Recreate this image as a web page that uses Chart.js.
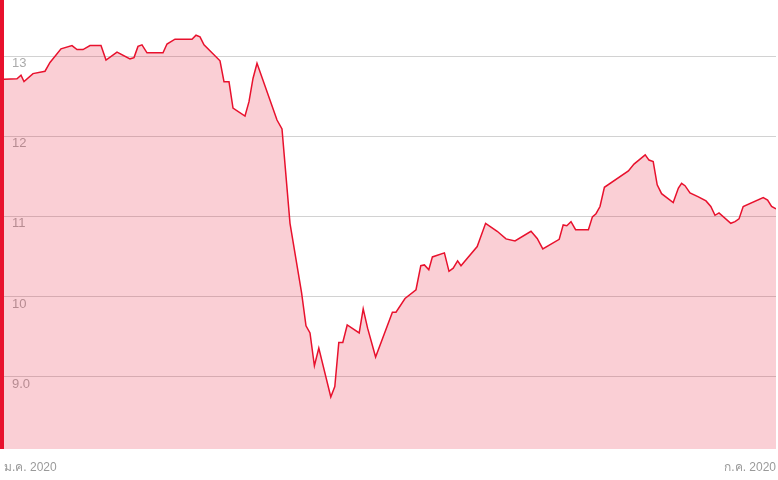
<!DOCTYPE html>
<html>
<head>
<meta charset="utf-8">
<script src="https://cdn.jsdelivr.net/npm/chart.js@4/dist/chart.umd.min.js"></script>
<style>
  html, body { margin: 0; padding: 0; background: #fff; }
  #wrap { width: 778px; height: 480px; position: relative; }
</style>
</head>
<body>
<div id="wrap"><canvas id="c"></canvas></div>
<script>
// Days since the first trading day shown (Jan 2020 .. Jul 2020)
const days = [0, 3.25, 4.25, 5, 7.25, 10.25, 11.5, 14.25, 17, 18.25, 19.75, 21.5, 24.25, 25.5, 28.25, 31.5, 32.5, 33.5, 34.5, 35.75,
  39.75, 40.75, 42.75, 47, 48, 49, 50, 54, 55, 56.25, 57.25, 60.25, 61.25, 62.25, 63.25, 68.25, 69.5, 71.5, 74.4, 75.5,
  76.5, 77.6, 78.7, 81.7, 82.7, 83.7, 84.7, 85.8, 88.8, 89.8, 90.9, 92.9, 97.1, 98, 100.25, 103, 104.2, 105.1, 106.2, 107.1,
  110.1, 111.25, 112.3, 113.4, 114.25, 118.3, 120.4, 123.3, 125.5, 127.75, 131.75, 133.3, 134.7, 138.8, 139.8, 140.7, 141.75, 142.9, 146.1, 147.1,
  148, 149, 150.1, 156.1, 157.5, 160.3, 161.25, 162.3, 163.3, 164.4, 167.3, 168.6, 169.4, 170.25, 171.5, 173.6, 175.5, 176.7, 177.75, 178.75,
  181.7, 182.75, 183.75, 184.8, 189.8, 190.9, 191.9, 193];
const values = [12.72, 12.725, 12.77, 12.69, 12.79, 12.82, 12.93, 13.10, 13.14, 13.09, 13.09, 13.14, 13.14, 12.96, 13.06, 12.975, 12.99, 13.13, 13.15, 13.05,
  13.05, 13.16, 13.22, 13.22, 13.27, 13.25, 13.15, 12.95, 12.69, 12.69, 12.36, 12.26, 12.44, 12.73, 12.92, 12.21, 12.10, 10.92, 10.05, 9.64,
  9.55, 9.14, 9.36, 8.75, 8.88, 9.43, 9.43, 9.65, 9.55, 9.85, 9.61, 9.25, 9.81, 9.81, 9.98, 10.09, 10.39, 10.40, 10.34, 10.50,
  10.55, 10.32, 10.36, 10.45, 10.39, 10.63, 10.92, 10.82, 10.725, 10.70, 10.82, 10.73, 10.60, 10.72, 10.90, 10.89, 10.94, 10.84, 10.84, 11.00,
  11.04, 11.13, 11.37, 11.575, 11.66, 11.775, 11.71, 11.69, 11.40, 11.29, 11.18, 11.36, 11.42, 11.39, 11.30, 11.25, 11.20, 11.13, 11.02, 11.05,
  10.92, 10.94, 10.975, 11.13, 11.24, 11.21, 11.13, 11.10];

const xTickDays = [0, 193];
const xTickLabels = ['ม.ค. 2020', 'ก.ค. 2020'];
const yTicks = [9, 10, 11, 12, 13];
const yTickLabels = ['9.0', '10', '11', '12', '13'];

const RED = '#e8112d';

const leftBar = {
  id: 'leftBar',
  afterDatasetsDraw(chart) {
    const a = chart.chartArea;
    const ctx = chart.ctx;
    ctx.save();
    ctx.fillStyle = RED;
    ctx.fillRect(0, a.top, a.left, a.bottom - a.top);
    ctx.restore();
  }
};

new Chart(document.getElementById('c'), {
  type: 'line',
  data: {
    datasets: [{
      data: days.map((d, i) => ({ x: d, y: values[i] })),
      borderColor: RED,
      borderWidth: 1.5,
      backgroundColor: 'rgba(232,17,45,0.2)',
      fill: 'start',
      pointRadius: 0,
      tension: 0
    }]
  },
  options: {
    responsive: true,
    maintainAspectRatio: false,
    animation: false,
    layout: { padding: { left: 0, right: 2, top: 0, bottom: 5 } },
    plugins: { legend: { display: false }, tooltip: { enabled: false } },
    scales: {
      x: {
        type: 'linear',
        min: xTickDays[0],
        max: xTickDays[xTickDays.length - 1],
        afterBuildTicks: s => { s.ticks = xTickDays.map(v => ({ value: v })); },
        afterFit: s => { s.paddingLeft = 0; s.paddingRight = 0; s.height = 26; },
        grid: { display: false, drawTicks: false },
        border: { display: false },
        ticks: {
          autoSkip: false,
          maxRotation: 0,
          align: 'inner',
          padding: 11,
          color: '#9a9a9a',
          font: { family: "'Liberation Sans', Arial, 'Noto Sans', sans-serif", size: 12 },
          callback: (v, i) => xTickLabels[i]
        }
      },
      y: {
        type: 'linear',
        min: 8.1,
        max: 13.71,
        afterBuildTicks: s => { s.ticks = yTicks.map(v => ({ value: v })); },
        afterFit: s => { s.width = 4; s.paddingTop = 0; s.paddingBottom = 0; },
        grid: { color: '#d2d2d2', lineWidth: 1, drawTicks: false },
        border: { display: false },
        ticks: {
          mirror: true,
          padding: 8,
          labelOffset: 7,
          color: '#ababab',
          font: { family: "'Liberation Sans', Arial, sans-serif", size: 13 },
          callback: (v, i) => yTickLabels[i]
        }
      }
    }
  },
  plugins: [leftBar]
});
</script>
</body>
</html>
